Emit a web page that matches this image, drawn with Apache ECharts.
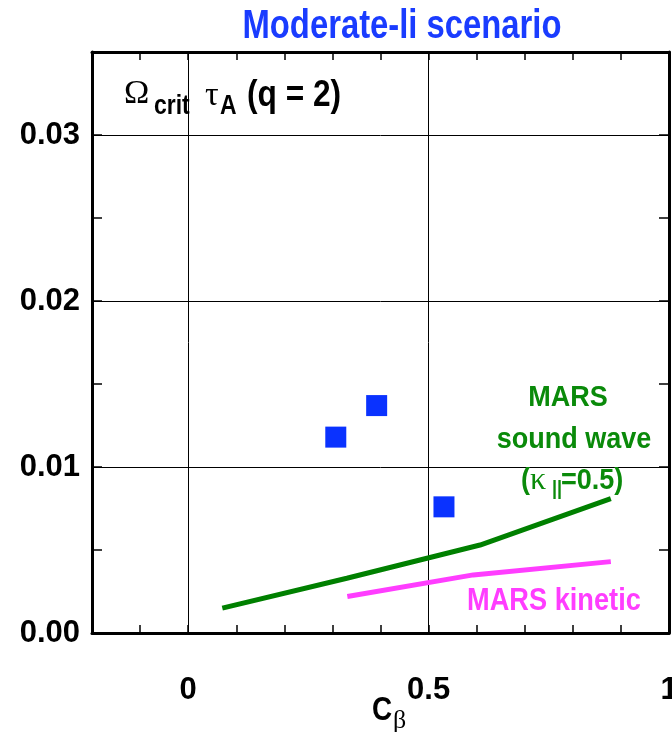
<!DOCTYPE html>
<html>
<head>
<meta charset="utf-8">
<script src="https://cdn.jsdelivr.net/npm/echarts@6/dist/echarts.min.js"></script>
<style>
html,body{margin:0;padding:0;background:#fff;overflow:hidden;}
#chart{width:672px;height:732px;}
</style>
</head>
<body>
<div id="chart"></div>
<script>
// ---- data ----
const expX = [0.307, 0.392, 0.532];
const expY = [0.0118, 0.0137, 0.0076];
const soundX = [0.071, 0.330, 0.607, 0.879];
const soundY = [0.0015, 0.0033, 0.0053, 0.0081];
const kineticX = [0.331, 0.593, 0.879];
const kineticY = [0.0022, 0.0035, 0.0043];
const xTickLabels = [0, 0.5, 1];
const yTickLabels = [0, 0.01, 0.02, 0.03];
const gridXs = [0, 0.5];
const gridYs = [0.01, 0.02, 0.03];

const SANS = "'Liberation Sans',Arial,sans-serif";
const SERIF = "'Liberation Serif','DejaVu Serif',serif";

const near = (v, arr) => arr.find(a => Math.abs(v - a) < 1e-6);
const xFmt = v => { const m = near(v, xTickLabels); return m === undefined ? '' : String(m); };
const yFmt = v => { const m = near(v, yTickLabels); return m === undefined ? '' : m.toFixed(2); };

const chart = echarts.init(document.getElementById('chart'), null, {renderer: 'canvas'});

const axisLineStyle = {color: '#000', width: 3};
const tickStyle = {color: '#000', width: 1.5};
const labelFont = {color: '#000', fontWeight: 'bold', fontSize: 31, fontFamily: SANS};

function xAx(pos, showLabel) {
  return {
    type: 'value', position: pos, min: -0.2, max: 1, interval: 0.1,
    axisLine: {show: true, onZero: false, lineStyle: axisLineStyle},
    axisTick: {show: true, inside: true, length: 8, lineStyle: tickStyle},
    axisLabel: Object.assign({show: showLabel, formatter: xFmt, margin: 42, hideOverlap: false}, labelFont),
    splitLine: {show: false}
  };
}
function yAx(pos, showLabel) {
  return {
    type: 'value', position: pos, min: 0, max: 0.035, interval: 0.005,
    axisLine: {show: true, onZero: false, lineStyle: axisLineStyle},
    axisTick: {show: true, inside: true, length: 10, lineStyle: tickStyle},
    axisLabel: Object.assign({show: showLabel, formatter: yFmt, margin: 12}, labelFont),
    splitLine: {show: false}
  };
}

const gridMarks = gridXs.map(v => ({xAxis: v})).concat(gridYs.map(v => ({yAxis: v})));

function txt(text, x, y, size, opts) {
  opts = opts || {};
  const serif = opts.family === SERIF;
  return {
    type: 'text', x: x, y: y, z: 100,
    scaleX: opts.sx !== undefined ? opts.sx : (serif ? 1 : 0.82),
    style: {
      text: text,
      fontSize: size,
      fontWeight: opts.weight || 'bold',
      fontFamily: opts.family || SANS,
      fill: opts.color || '#000',
      textAlign: opts.align || 'left',
      textVerticalAlign: 'middle'
    }
  };
}

const GREEN = '#0a8a0a';
const MAG = '#ff3dff';

const option = {
  animation: false,
  backgroundColor: '#fff',
  grid: {left: 92, top: 52, right: 3, bottom: 99, containLabel: false, outerBoundsMode: 'none'},
  xAxis: [xAx('bottom', true), xAx('top', false)],
  yAxis: [yAx('left', true), yAx('right', false)],
  series: [
    {
      type: 'line', data: [], silent: true,
      markLine: {
        silent: true, symbol: 'none', animation: false,
        label: {show: false},
        lineStyle: {color: '#000', width: 1, type: 'solid'},
        data: gridMarks
      }
    },
    {
      type: 'line', data: soundX.map((x, i) => [x, soundY[i]]),
      showSymbol: false, symbol: 'none',
      lineStyle: {color: '#008000', width: 5}, z: 5
    },
    {
      type: 'line', data: kineticX.map((x, i) => [x, kineticY[i]]),
      showSymbol: false, symbol: 'none',
      lineStyle: {color: MAG, width: 5}, z: 5
    },
    {
      type: 'scatter', data: expX.map((x, i) => [x, expY[i]]),
      symbol: 'rect', symbolSize: 21,
      itemStyle: {color: '#0a32ff', opacity: 1}, z: 6
    }
  ],
  graphic: [
    txt('Moderate-li scenario', 402, 27, 40, {align: 'center', color: '#1a3cff'}),
    // annotation
    txt('\u03A9', 124, 94, 34, {family: SERIF, weight: 'normal'}),
    txt('crit', 154, 106, 28),
    txt('\u03C4', 205, 96, 34, {family: SERIF, weight: 'normal'}),
    txt('A', 220, 106, 28),
    txt('(q = 2)', 247, 96, 36, {sx: 0.88}),
    // MARS sound wave
    txt('MARS', 568, 398, 30, {align: 'center', color: GREEN, sx: 0.9}),
    txt('sound wave', 574, 440, 30, {align: 'center', color: GREEN, sx: 0.9}),
    txt('(', 521, 481, 30, {color: GREEN, sx: 0.9}),
    txt('\u03BA', 530, 481, 32, {family: SERIF, weight: 'normal', color: GREEN}),
    txt('||', 552, 489, 20, {color: GREEN, sx: 0.9}),
    txt('=0.5)', 561, 481, 30, {color: GREEN, sx: 0.9}),
    // MARS kinetic
    txt('MARS kinetic', 467, 601, 32, {color: MAG, sx: 0.85}),
    // axis title
    txt('C', 372, 711, 34),
    txt('\u03B2', 393, 721, 26, {family: SERIF, weight: 'normal'})
  ]
};
chart.setOption(option);
</script>
</body>
</html>
